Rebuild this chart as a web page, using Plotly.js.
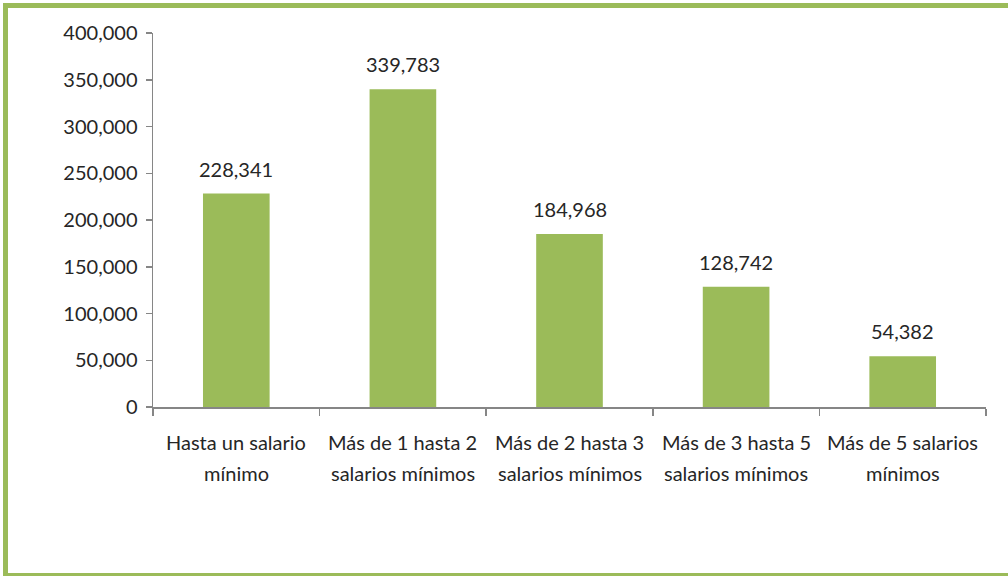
<!DOCTYPE html>
<html><head><meta charset="utf-8">
<script src="https://cdn.plot.ly/plotly-3.0.1.min.js"></script>
<style>
html,body{margin:0;padding:0;background:#fff;}
#wrap{position:relative;width:1008px;height:576px;overflow:hidden;}
#chart{width:1008px;height:576px;}
#frame{position:absolute;left:3px;top:3px;width:1020px;height:565px;border:5px solid #9BBB59;pointer-events:none;}
</style></head>
<body>
<div id="wrap"><div id="chart"></div><div id="frame"></div></div>
<script>
var categories = ["Hasta un salario mínimo", "Más de 1 hasta 2 salarios mínimos", "Más de 2 hasta 3 salarios mínimos", "Más de 3 hasta 5 salarios mínimos", "Más de 5 salarios mínimos"];
var labelLine1 = ["Hasta un salario", "Más de 1 hasta 2", "Más de 2 hasta 3", "Más de 3 hasta 5", "Más de 5 salarios"];
var labelLine2 = ["mínimo", "salarios mínimos", "salarios mínimos", "salarios mínimos", "mínimos"];
var values = [228341, 339783, 184968, 128742, 54382];

var font = "Lato, 'Open Sans', sans-serif";
var txtColor = "#262626";
var fs = 20;
var annotations = [];
categories.forEach(function(c, i){
  annotations.push({x:c, y:values[i], xref:'x', yref:'y', text:values[i].toLocaleString('en-US'), showarrow:false, yanchor:'bottom', yshift:11, font:{family:font,size:fs,color:txtColor}});
  annotations.push({x:c, y:0, xref:'x', yref:'y', text:labelLine1[i], showarrow:false, yanchor:'middle', yshift:-35, font:{family:font,size:fs,color:txtColor}});
  annotations.push({x:c, y:0, xref:'x', yref:'y', text:labelLine2[i], showarrow:false, yanchor:'middle', yshift:-66, font:{family:font,size:fs,color:txtColor}});
});

var data = [{type:'bar', x:categories, y:values, marker:{color:'#9BBB59'}, hoverinfo:'x+y'}];
var layout = {
  width:1008, height:576,
  margin:{l:153, r:22, t:33, b:169},
  paper_bgcolor:'#fff', plot_bgcolor:'#fff',
  bargap:0.6,
  showlegend:false,
  font:{family:font, size:fs, color:txtColor},
  xaxis:{type:'category', showticklabels:false, showline:true, linecolor:'#868686', linewidth:1.5, ticks:'outside', tickson:'boundaries', ticklen:7, tickcolor:'#868686', tickwidth:1.5, showgrid:false, zeroline:false, fixedrange:true},
  yaxis:{range:[0,400000], dtick:50000, tickformat:',', showline:true, linecolor:'#868686', linewidth:1.5, ticks:'outside', ticklen:6, tickcolor:'#868686', tickwidth:1.5, showgrid:false, zeroline:false, ticklabelstandoff:4, tickfont:{family:font,size:fs,color:txtColor}, fixedrange:true},
  annotations:annotations
};
Plotly.newPlot('chart', data, layout, {displayModeBar:false, staticPlot:true});
</script>
</body></html>
